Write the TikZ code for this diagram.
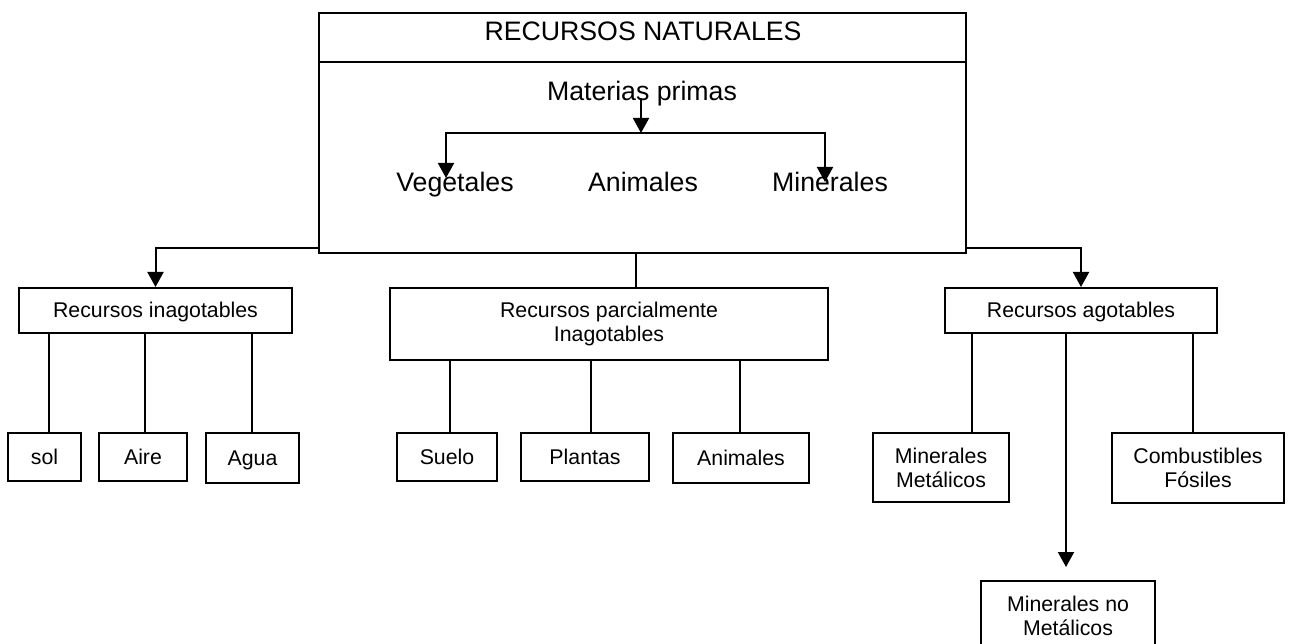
\documentclass[tikz,border=0pt]{standalone}
\usepackage{fontspec}
\setmainfont{Liberation Sans}
\usetikzlibrary{arrows.meta,calc}
\begin{document}
\begin{tikzpicture}[x=1pt,y=-1pt,
  box/.style={draw,line width=2pt,rectangle,inner sep=0pt,font=\fontsize{21.3}{24}\selectfont,align=center},
  one/.style={text height=15pt,text depth=0pt},
  big/.style={font=\fontsize{26.7}{30}\selectfont,inner sep=0pt},
  con/.style={line width=2pt},
  arr/.style={con,-{Triangle[width=16pt,length=15pt]}}]
\useasboundingbox (0,0) rectangle (1291,644);
\clip (0,0) rectangle (1291,644);
% main box
\node[draw,line width=2pt,minimum width=647pt,minimum height=240pt,inner sep=0pt] (main) at (642.5,133) {};
\draw[con] ($(main.north west)+(0,50)$) -- ($(main.north east)+(0,50)$);
\node[big,anchor=base] (title) at (643,41) {RECURSOS NATURALES};
\node[big,anchor=base] (mp) at (642,101) {Materias primas};
\node[big,anchor=base] (veg) at (455,192) {Vegetales};
\node[big,anchor=base] (ani) at (643,192) {Animales};
\node[big,anchor=base] (minr) at (830,192) {Minerales};
\coordinate (mptop) at (641,98);
\coordinate (jn) at (641,133);
\coordinate (vtip) at (446,178);
\coordinate (mtip) at (825,182);
\draw[arr] (mptop) -- (jn);
\draw[arr] (jn) -| (vtip);
\draw[arr] (jn) -| (mtip);
% level 2
\node[box,one,minimum width=273pt,minimum height=45pt] (rin) at (155.5,310.5) {Recursos inagotables};
\node[box,minimum width=438pt,minimum height=72pt] (pin) at (609,324) {Recursos parcialmente\\Inagotables};
\node[box,one,minimum width=272pt,minimum height=45pt] (rag) at (1081,310.5) {Recursos agotables};
\coordinate (lj) at ($(main.south west)+(0,-6)$);
\coordinate (rj) at ($(main.south east)+(0,-6)$);
\draw[arr] (lj) -| (rin.north);
\draw[arr] (rj) -| (rag.north);
\draw[con] ([xshift=27pt]pin.north |- main.south) -- ([xshift=27pt]pin.north);
% level 3
\node[box,one,minimum width=73pt,minimum height=48pt] (sol) at (44.5,457) {sol};
\node[box,one,minimum width=88pt,minimum height=48pt] (aire) at (143,457) {Aire};
\node[box,one,minimum width=93pt,minimum height=50pt] (agua) at (252.5,458) {Agua};
\node[box,one,minimum width=100pt,minimum height=48pt] (suelo) at (447,457) {Suelo};
\node[box,one,minimum width=128pt,minimum height=48pt] (plantas) at (585,457) {Plantas};
\node[box,one,minimum width=136pt,minimum height=50pt] (anim) at (741,458) {Animales};
\node[box,minimum width=136pt,minimum height=69pt] (mm) at (941,467.5) {Minerales\\Metálicos};
\node[box,minimum width=172pt,minimum height=70pt] (comb) at (1198,467.5) {Combustibles\\Fósiles};
\node[box,minimum width=174pt,minimum height=70pt] (mnm) at (1068,616) {Minerales no\\Metálicos};
\draw[con] ([xshift=4.5pt]sol.north |- rin.south) -- ([xshift=4.5pt]sol.north);
\draw[con] ([xshift=2pt]aire.north |- rin.south) -- ([xshift=2pt]aire.north);
\draw[con] ([xshift=-0.5pt]agua.north |- rin.south) -- ([xshift=-0.5pt]agua.north);
\draw[con] ([xshift=3pt]suelo.north |- pin.south) -- ([xshift=3pt]suelo.north);
\draw[con] ([xshift=6pt]plantas.north |- pin.south) -- ([xshift=6pt]plantas.north);
\draw[con] ([xshift=-1pt]anim.north |- pin.south) -- ([xshift=-1pt]anim.north);
\draw[con] ([xshift=31pt]mm.north |- rag.south) -- ([xshift=31pt]mm.north);
\draw[con] ([xshift=-5pt]comb.north |- rag.south) -- ([xshift=-5pt]comb.north);
\coordinate (nmtip) at (1066,567);
\draw[arr] (nmtip |- rag.south) -- (nmtip);
\end{tikzpicture}
\end{document}
